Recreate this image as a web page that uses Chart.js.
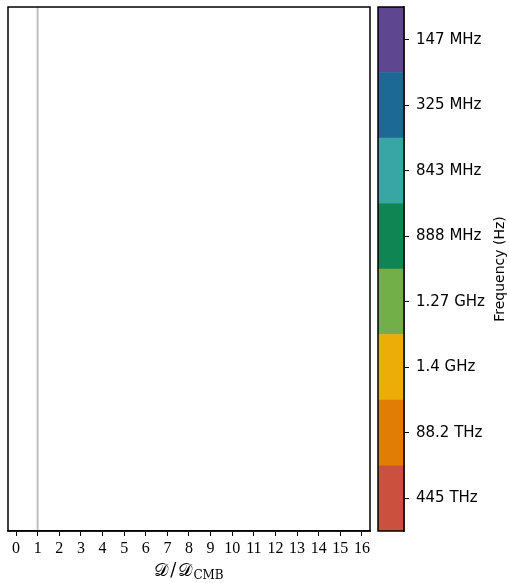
<!DOCTYPE html>
<html>
<head>
<meta charset="utf-8">
<script src="https://cdn.jsdelivr.net/npm/chart.js@4/dist/chart.umd.min.js"></script>
<style>
  html, body { margin: 0; padding: 0; background: #fff; }
  #wrap { position: relative; width: 509px; height: 583px; overflow: hidden; }
  #main { position: absolute; left: 0; top: 0; }
  #cbar { position: absolute; left: 370px; top: 0; }
</style>
</head>
<body>
<div id="wrap">
  <canvas id="main" width="378" height="583"></canvas>
  <canvas id="cbar" width="139" height="583"></canvas>
</div>
<script>
// ---- data ----
const xTicks = [0, 1, 2, 3, 4, 5, 6, 7, 8, 9, 10, 11, 12, 13, 14, 15, 16];
const xMin = -0.37;
const xMax = 16.37;
const refLineX = [1, 1];
const refLineY = [0, 1];
const freqLabels = ['147 MHz', '325 MHz', '843 MHz', '888 MHz', '1.27 GHz', '1.4 GHz', '88.2 THz', '445 THz'];
const bandColors = ['#5F4690', '#1D6996', '#38A6A5', '#0F8554', '#73AF48', '#EDAD08', '#E17C05', '#CC503E'];
const bandValues = [1, 1, 1, 1, 1, 1, 1, 1];
const xTitleParts = ['𝒟', '/', '𝒟'];
const xTitleSub = 'CMB';
const cbarTitle = 'Frequency (Hz)';

Chart.defaults.font.family = 'DejaVu Sans';
Chart.defaults.color = '#000';

const framePlugin = {
  id: 'frame',
  afterDraw(chart, args, opts) {
    const { ctx, chartArea: a } = chart;
    ctx.save();
    ctx.strokeStyle = '#000';
    ctx.lineWidth = opts.width || 1.5;
    ctx.strokeRect(a.left, a.top, a.right - a.left, a.bottom - a.top);
    ctx.restore();
  }
};

const xTitlePlugin = {
  id: 'xTitle',
  afterDraw(chart) {
    const { ctx, chartArea: a } = chart;
    ctx.save();
    ctx.fillStyle = '#000';
    ctx.textBaseline = 'alphabetic';
    const mainFont = '18px "DejaVu Serif", serif';
    const subFont = '12px "DejaVu Serif", serif';
    ctx.font = mainFont;
    const gap = 2;
    const ws = xTitleParts.map(p => ctx.measureText(p).width);
    const w1 = ws.reduce((s, w) => s + w, 0) + gap * (xTitleParts.length - 1);
    ctx.font = subFont;
    const w2 = ctx.measureText(xTitleSub).width;
    const cx = (a.left + a.right) / 2;
    let x = cx - (w1 + w2 + 1) / 2;
    const y = 576;
    ctx.font = mainFont;
    xTitleParts.forEach((p, i) => { ctx.fillText(p, x, y); x += ws[i] + gap; });
    ctx.font = subFont;
    ctx.fillText(xTitleSub, x - gap + 1, y + 3);
    ctx.restore();
  }
};

new Chart(document.getElementById('main'), {
  type: 'scatter',
  data: {
    datasets: [{
      type: 'line',
      data: refLineX.map((x, i) => ({ x: x, y: refLineY[i] })),
      borderColor: 'rgba(128,128,128,0.5)',
      borderWidth: 2,
      pointRadius: 0,
      fill: false
    }]
  },
  options: {
    responsive: false,
    animation: false,
    devicePixelRatio: 1,
    layout: { padding: { left: 8, top: 7, right: 8, bottom: 0 } },
    plugins: { legend: { display: false }, tooltip: { enabled: false }, frame: { width: 1.5 } },
    scales: {
      x: {
        type: 'linear',
        min: xMin,
        max: xMax,
        afterBuildTicks(scale) { scale.ticks = xTicks.map(v => ({ value: v })); },
        afterFit(scale) { scale.height = 52; },
        ticks: {
          autoSkip: false,
          maxRotation: 0,
          padding: 3,
          color: '#000',
          font: { family: '"Liberation Serif", serif', size: 16 },
          callback: (v) => String(v)
        },
        grid: { drawOnChartArea: false, drawTicks: true, tickLength: 5, tickColor: '#000', tickWidth: 1 },
        border: { display: true, color: '#000', width: 1.5 }
      },
      y: { display: false, min: 0, max: 1 }
    }
  },
  plugins: [framePlugin, xTitlePlugin]
});

const cbarTitlePlugin = {
  id: 'cbarTitle',
  afterDraw(chart) {
    const { ctx, chartArea: a } = chart;
    ctx.save();
    ctx.fillStyle = '#000';
    ctx.font = '14px "DejaVu Sans"';
    ctx.textAlign = 'center';
    ctx.textBaseline = 'middle';
    ctx.translate(130, (a.top + a.bottom) / 2);
    ctx.rotate(-Math.PI / 2);
    ctx.fillText(cbarTitle, 0, 0);
    ctx.restore();
  }
};

// bottom-to-top order for stacking
const stackColors = bandColors.slice().reverse();
new Chart(document.getElementById('cbar'), {
  type: 'bar',
  data: {
    labels: ['band'],
    datasets: bandValues.map((v, i) => ({
      data: [v],
      backgroundColor: stackColors[i],
      borderWidth: 0,
      barPercentage: 1,
      categoryPercentage: 1
    }))
  },
  options: {
    responsive: false,
    animation: false,
    devicePixelRatio: 1,
    layout: { padding: { left: 8, top: 7, right: 0, bottom: 52 } },
    plugins: { legend: { display: false }, tooltip: { enabled: false }, frame: { width: 1.5 } },
    scales: {
      x: { stacked: true, display: false },
      y: {
        stacked: true,
        position: 'right',
        min: 0,
        max: bandValues.length,
        afterBuildTicks(scale) { scale.ticks = bandValues.map((v, i) => ({ value: i + 0.5 })); },
        afterFit(scale) { scale.width = 105; scale.paddingTop = 0; scale.paddingBottom = 0; },
        ticks: {
          padding: 7,
          color: '#000',
          font: { family: 'DejaVu Sans', size: 15 },
          callback: (v) => freqLabels[bandValues.length - 1 - Math.floor(v)]
        },
        grid: { drawOnChartArea: false, drawTicks: true, tickLength: 5, tickColor: '#000', tickWidth: 1 },
        border: { display: true, color: '#000', width: 1.5 }
      }
    }
  },
  plugins: [framePlugin, cbarTitlePlugin]
});
</script>
</body>
</html>
